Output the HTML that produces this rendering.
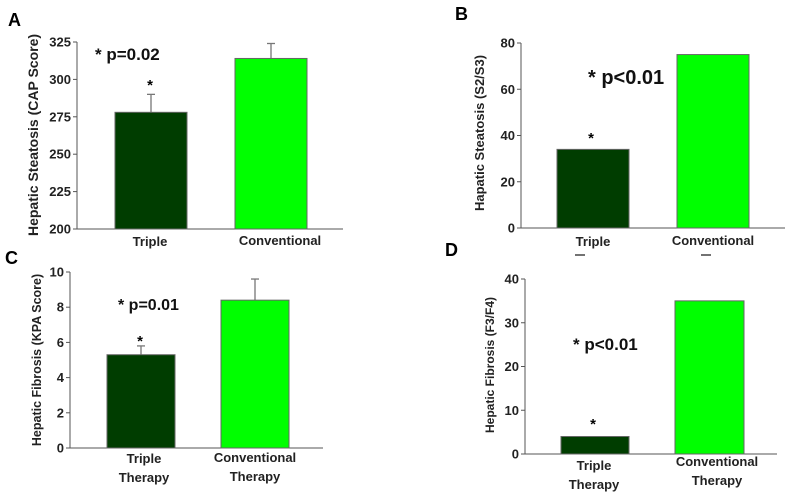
<!DOCTYPE html>
<html><head><meta charset="utf-8"><style>
html,body{margin:0;padding:0;background:#fff;}
svg{display:block;font-family:"Liberation Sans",Arial,sans-serif;font-weight:bold;}
</style></head><body>
<svg id="fig" width="789" height="500" viewBox="0 0 789 500"></svg>
<script>
const categoriesA = ["Triple", ""];
const valuesA = [278, 314];
const errorsA = [12, 10];
const ticksA = [200, 225, 250, 275, 300, 325];
const categoriesB = ["Triple", ""];
const valuesB = [34, 75];
const ticksB = [0, 20, 40, 60, 80];
const valuesC = [5.3, 8.4];
const errorsC = [0.5, 1.2];
const ticksC = [0, 2, 4, 6, 8, 10];
const valuesD = [4, 35];
const ticksD = [0, 10, 20, 30, 40];
const colors = ["#003d00", "#00ff00"];

const NS = "http://www.w3.org/2000/svg";
const svg = document.getElementById("fig");
function el(tag, attrs, parent, text) {
  const e = document.createElementNS(NS, tag);
  for (const k in attrs) e.setAttribute(k, attrs[k]);
  if (text !== undefined) e.textContent = text;
  (parent || svg).appendChild(e);
  return e;
}
function panel(p) {
  const g = el("g", {});
  
  
  const lo = p.ticks[0], hi = p.ticks[p.ticks.length - 1];
  const y = v => p.y0 + (p.y1 - p.y0) * (v - lo) / (hi - lo);
  const t = el("text", {x: p.lx, y: p.ly, "font-size": 18}, g, p.letter);
  
  
  const ax = el("line", {x1: p.ax, y1: p.y1, x2: p.ax, y2: p.y0, stroke: "#555", "stroke-width": 1}, g);
  
  
  const xa = el("line", {x1: p.ax, y1: p.y0, x2: p.axEnd, y2: p.y0, stroke: "#555", "stroke-width": 1}, g);
  
  
  p.ticks.forEach(v => {
    const yy = y(v);
    const tk = el("line", {x1: p.ax - 4, y1: yy, x2: p.ax, y2: yy, stroke: "#555"}, g);
    
    
    const tl = el("text", {x: p.ax - 6, y: yy + 4.5, "font-size": 13, "text-anchor": "end", fill: "#222"}, g, String(v));
    
    
  });
  p.values.forEach((v, i) => {
    const [x0, x1] = p.bars[i];
    if (p.errors) {
      const ey = y(v + p.errors[i]);
      const e1 = el("line", {x1: (x0 + x1) / 2, y1: y(v), x2: (x0 + x1) / 2, y2: ey, stroke: "#777", "stroke-width": 1.3}, g);
      
      
      const e2 = el("line", {x1: (x0 + x1) / 2 - 4, y1: ey, x2: (x0 + x1) / 2 + 4, y2: ey, stroke: "#777", "stroke-width": 1.3}, g);
      
      
    }
    const r = el("rect", {x: x0, y: y(v), width: x1 - x0, height: p.y0 - y(v), fill: colors[i], stroke: "#666", "stroke-width": 1}, g);
    
    
  });
  p.xlabels.forEach((lines, i) => {
    lines.forEach((s, j) => {
      const tx = el("text", {x: p.labelX[i], y: p.labelY[i] + j * 19, "font-size": 13, "text-anchor": "middle", fill: "#222"}, g, s);
      
      
    });
  });
  const st = el("text", {x: p.star[0], y: p.star[1], "font-size": 15, "text-anchor": "middle"}, g, "*");
  
  
  const pv = el("text", {x: p.pText[0], y: p.pText[1], "font-size": p.pSize, fill: "#111"}, g, p.pLabel);
  
  
  const yt = el("text", {x: 0, y: 0, "font-size": p.titleSize, "text-anchor": "middle", fill: "#222",
    transform: "translate(" + p.title[0] + "," + p.title[1] + ") rotate(-90)"}, g, p.titleText);
  
  
}
panel({letter: "A", lx: 8, ly: 26, ax: 77, axEnd: 343, y0: 229, y1: 42, ticks: ticksA,
  values: valuesA, errors: errorsA, bars: [[115, 187], [235, 307]],
  xlabels: [["Triple"], ["Conventional"]], labelX: [150, 280], labelY: [246, 245],
  star: [150, 90], pText: [95, 60], pSize: 17, pLabel: "* p=0.02",
  title: [38, 135], titleSize: 14, titleText: "Hepatic Steatosis (CAP Score)"});
panel({letter: "B", lx: 455, ly: 20, ax: 521, axEnd: 785, y0: 228, y1: 43, ticks: ticksB,
  values: valuesB, bars: [[557, 629], [677, 749]],
  xlabels: [["Triple"], ["Conventional"]], labelX: [593, 713], labelY: [246, 245],
  star: [591, 143], pText: [588, 84], pSize: 20, pLabel: "* p<0.01",
  title: [484, 133], titleSize: 13, titleText: "Hapatic Steatosis (S2/S3)"});
panel({letter: "C", lx: 5, ly: 264, ax: 70, axEnd: 323, y0: 448, y1: 272, ticks: ticksC,
  values: valuesC, errors: errorsC, bars: [[107, 175], [221, 289]],
  xlabels: [["Triple", "Therapy"], ["Conventional", "Therapy"]], labelX: [144, 255], labelY: [463, 462],
  star: [140, 346], pText: [118, 310], pSize: 16, pLabel: "* p=0.01",
  title: [41, 360], titleSize: 12.5, titleText: "Hepatic Fibrosis (KPA Score)"});
panel({letter: "D", lx: 445, ly: 256, ax: 525, axEnd: 777, y0: 454, y1: 279, ticks: ticksD,
  values: valuesD, bars: [[561, 629], [675, 744]],
  xlabels: [["Triple", "Therapy"], ["Conventional", "Therapy"]], labelX: [594, 717], labelY: [470, 466],
  star: [593, 429], pText: [573, 350], pSize: 17, pLabel: "* p<0.01",
  title: [494, 365], titleSize: 12, titleText: "Hepatic Fibrosis (F3/F4)"});
// small cut-off marks under panel B labels
[[575, 585], [701, 711]].forEach(m => {
  const l = el("line", {x1: m[0], y1: 255, x2: m[1], y2: 255, stroke: "#444", "stroke-width": 1.5});
  
  
});
</script>
</body></html>
